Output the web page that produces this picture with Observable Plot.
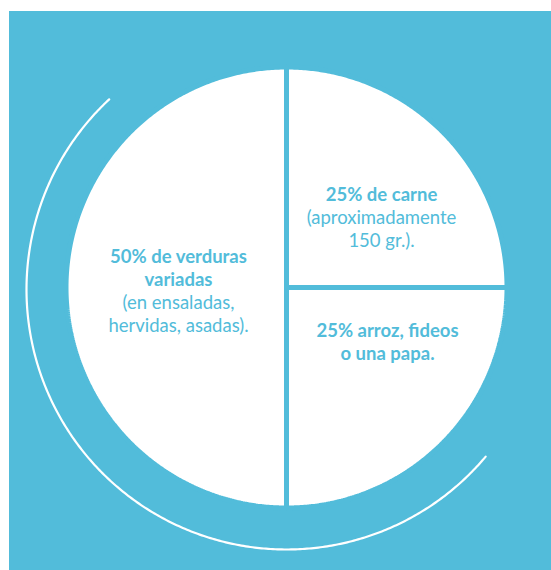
<!DOCTYPE html>
<html>
<head>
<meta charset="utf-8">
<script src="https://cdn.jsdelivr.net/npm/d3@7"></script>
<script src="https://cdn.jsdelivr.net/npm/@observablehq/plot@0.6"></script>
<style>
  html, body { margin: 0; padding: 0; background: #ffffff; }
  #chart { position: absolute; left: 9px; top: 11px; }
</style>
</head>
<body>
<div id="chart"></div>
<script>
// ---- data ----
const categories = ["carne", "arroz", "verduras"];
const shares = [25, 25, 50];
const boldLines = [
  ["25% de carne"],
  ["25% arroz, fideos", "o una papa."],
  ["50% de verduras", "variadas"]
];
const detailLines = [
  ["(aproximadamente", "150 gr.)."],
  [],
  ["(en ensaladas,", "hervidas, asadas)."]
];

// ---- layout ----
const W = 542, H = 559;
const CX = 277, CY = 276;            // pie centre inside the panel
const BG = "#52BCDA";
const R = 220.5;                      // slice radius (2.5px eaten by gap stroke)
const ringR = 260, ringDY = 2;
const ringFrom = 130, ringTo = 317;   // degrees, clockwise from 12 o'clock
const labelAnchor = [[95, -92], [101, 44], [-108, -30.5]]; // first-line centre per slice
const lineStep = 23;
const fontSize = 18.5;

const pie = d3.pie().sort(null).value(d => d)(shares);
const slicePts = [];
pie.forEach((s, i) => {
  const k = categories[i];
  slicePts.push({k, x: 0, y: 0});
  const n = Math.ceil((s.endAngle - s.startAngle) / (Math.PI / 360));
  for (let j = 0; j <= n; j++) {
    const a = s.startAngle + (s.endAngle - s.startAngle) * j / n;
    slicePts.push({k, x: R * Math.sin(a), y: -R * Math.cos(a)});
  }
  slicePts.push({k, x: 0, y: 0});
});

const ringPts = [];
for (let d = ringFrom; d <= ringTo; d += 0.5) {
  const a = d * Math.PI / 180;
  ringPts.push({x: ringR * Math.sin(a), y: ringDY - ringR * Math.cos(a)});
}

const texts = [];
categories.forEach((k, i) => {
  const [ax, ay] = labelAnchor[i];
  let line = 0;
  boldLines[i].forEach(t => texts.push({t, x: ax, y: ay + lineStep * line++, w: 700}));
  detailLines[i].forEach(t => texts.push({t, x: ax, y: ay + lineStep * line++, w: 400}));
});

const chart = Plot.plot({
  width: W,
  height: H,
  margin: 0,
  style: {background: BG, fontFamily: "Lato, 'Noto Sans', sans-serif"},
  x: {domain: [-CX, W - CX], range: [0, W], axis: null},
  y: {domain: [-CY, H - CY], range: [0, H], axis: null},
  marks: [
    Plot.line(ringPts, {x: "x", y: "y", stroke: "white", strokeWidth: 2.2, curve: "linear"}),
    Plot.line(slicePts, {x: "x", y: "y", z: "k", fill: "white", stroke: BG, strokeWidth: 5, strokeLinejoin: "miter", curve: "linear"}),
    Plot.text(texts.filter(d => d.w === 700), {x: "x", y: "y", text: "t", fill: BG, fontSize, fontWeight: 700, textAnchor: "middle"}),
    Plot.text(texts.filter(d => d.w === 400), {x: "x", y: "y", text: "t", fill: BG, fontSize, fontWeight: 400, textAnchor: "middle"})
  ]
});
document.getElementById("chart").appendChild(chart);
</script>
</body>
</html>
